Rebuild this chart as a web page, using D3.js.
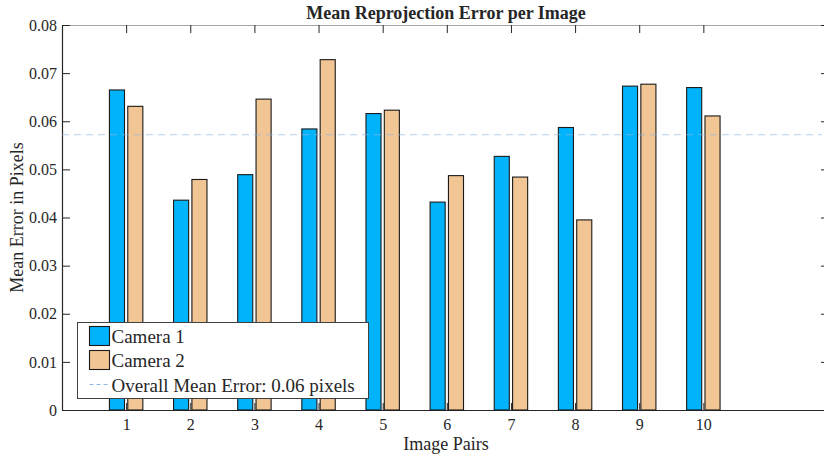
<!DOCTYPE html>
<html>
<head>
<meta charset="utf-8">
<script src="https://cdn.jsdelivr.net/npm/d3@7"></script>
<style>
  html, body { margin: 0; padding: 0; background: #fff; }
  svg { display: block; }
  text { font-family: "Liberation Serif", "Times New Roman", serif; fill: #262626; }
</style>
</head>
<body>
<svg id="chart" width="824" height="457"></svg>
<script>
// Per-image-pair reprojection error for the two cameras
const pairs = [1, 2, 3, 4, 5, 6, 7, 8, 9, 10];
const camera1 = [0.0665, 0.0436, 0.0489, 0.0584, 0.0616, 0.0432, 0.0527, 0.0587, 0.0673, 0.0670];
const camera2 = [0.0631, 0.0479, 0.0646, 0.0728, 0.0623, 0.0487, 0.0484, 0.0395, 0.0677, 0.0611];
const seriesNames = ["Camera 1", "Camera 2"];
const yTicks = [0, 0.01, 0.02, 0.03, 0.04, 0.05, 0.06, 0.07, 0.08];

const colors = ["#00b3fb", "#f1c594"];
const overallMean = d3.mean(camera1.concat(camera2));

const svg = d3.select("#chart");
const plotLeft = 62, plotRight = 822, plotTop = 25, plotBottom = 410;

const x = d3.scaleLinear().domain([0, 11.85]).range([plotLeft, plotRight]);
const y = d3.scaleLinear().domain([0, 0.08]).range([plotBottom, plotTop]);

const barW = 0.235;      // bar width in category units
const barOff = 0.143;    // centre offset of each bar from the category

const serif = '"Liberation Serif", "Times New Roman", serif';

// top box edge with inward ticks
const topAxis = svg.append("g")
  .attr("transform", `translate(0,${plotTop})`)
  .call(d3.axisTop(x).tickValues(pairs).tickSizeInner(-8).tickSizeOuter(0).tickFormat(""));
topAxis.select(".domain").attr("stroke", "#a6a6a6");
topAxis.selectAll(".tick line").attr("stroke", "#262626");

// right box ticks
const rightAxis = svg.append("g")
  .attr("transform", `translate(824,0)`)
  .call(d3.axisRight(y).tickValues(yTicks).tickSizeInner(-3).tickSizeOuter(0).tickFormat(""));
rightAxis.select(".domain").remove();
rightAxis.selectAll(".tick line").attr("stroke", "#262626");

// bottom axis
const xAxis = svg.append("g")
  .attr("transform", `translate(0,${plotBottom})`)
  .call(d3.axisBottom(x).tickValues(pairs).tickSizeInner(-7).tickSizeOuter(0).tickPadding(9).tickFormat(d3.format("d")));
xAxis.select(".domain").attr("stroke", "#262626").attr("stroke-width", 1.2);
xAxis.selectAll(".tick line").attr("stroke", "#262626");
xAxis.selectAll("text").style("font-size", "16px").style("font-family", serif).attr("fill", "#262626");

// left axis
const yAxis = svg.append("g")
  .attr("transform", `translate(${plotLeft},0)`)
  .call(d3.axisLeft(y).tickValues(yTicks).tickSizeInner(-8).tickSizeOuter(0).tickPadding(5)
    .tickFormat(d => d === 0 ? "0" : d3.format(".2f")(d)));
yAxis.select(".domain").attr("stroke", "#262626").attr("stroke-width", 1.2);
yAxis.selectAll(".tick line").attr("stroke", "#262626");
yAxis.selectAll("text").style("font-size", "16px").style("font-family", serif).attr("fill", "#262626");

// bars
const rows = pairs.map((p, i) => ({ pair: p, values: [camera1[i], camera2[i]] }));
const groups = svg.append("g").selectAll("g").data(rows).join("g");
groups.selectAll("rect")
  .data(d => d.values.map((v, k) => ({ pair: d.pair, v, k })))
  .join("rect")
  .attr("x", d => x(d.pair + (d.k === 0 ? -barOff : barOff) - barW / 2))
  .attr("width", d => x(barW) - x(0))
  .attr("y", d => y(d.v))
  .attr("height", d => y(0) - y(d.v))
  .attr("fill", d => colors[d.k])
  .attr("stroke", "#1a1a1a")
  .attr("stroke-width", 1.1);

// overall mean line
svg.append("line")
  .attr("x1", plotLeft).attr("x2", plotRight)
  .attr("y1", y(overallMean)).attr("y2", y(overallMean))
  .attr("stroke", "#8fb8e0")
  .attr("stroke-opacity", 0.65)
  .attr("stroke-width", 1.2)
  .attr("stroke-dasharray", "7,5");

// title and axis labels
svg.append("text")
  .attr("x", (plotLeft + plotRight) / 2 + 4).attr("y", 19)
  .attr("text-anchor", "middle")
  .style("font-size", "18px").style("font-weight", "bold")
  .attr("fill", "#000")
  .text("Mean Reprojection Error per Image");

svg.append("text")
  .attr("x", (plotLeft + plotRight) / 2 + 4).attr("y", 450)
  .attr("text-anchor", "middle")
  .style("font-size", "18px")
  .text("Image Pairs");

svg.append("text")
  .attr("transform", `translate(23,${(plotTop + plotBottom) / 2}) rotate(-90)`)
  .attr("text-anchor", "middle")
  .style("font-size", "18px")
  .text("Mean Error in Pixels");

// legend
const legend = svg.append("g").attr("transform", "translate(77.5,322.5)");
legend.append("rect")
  .attr("width", 291).attr("height", 76)
  .attr("fill", "#fff").attr("stroke", "#404040").attr("stroke-width", 1);
seriesNames.forEach((name, k) => {
  legend.append("rect")
    .attr("x", 12).attr("y", 4 + k * 24)
    .attr("width", 20).attr("height", 19)
    .attr("fill", colors[k]).attr("stroke", "#1a1a1a").attr("stroke-width", 1.1);
  legend.append("text")
    .attr("x", 34).attr("y", 20 + k * 24)
    .style("font-size", "19px")
    .text(name);
});
legend.append("line")
  .attr("x1", 12).attr("x2", 32).attr("y1", 62).attr("y2", 62)
  .attr("stroke", "#8fb8e0").attr("stroke-width", 1.2).attr("stroke-dasharray", "4,3");
legend.append("text")
  .attr("x", 34).attr("y", 69)
  .style("font-size", "19px")
  .text(`Overall Mean Error: ${d3.format(".2f")(overallMean)} pixels`);
</script>
</body>
</html>
